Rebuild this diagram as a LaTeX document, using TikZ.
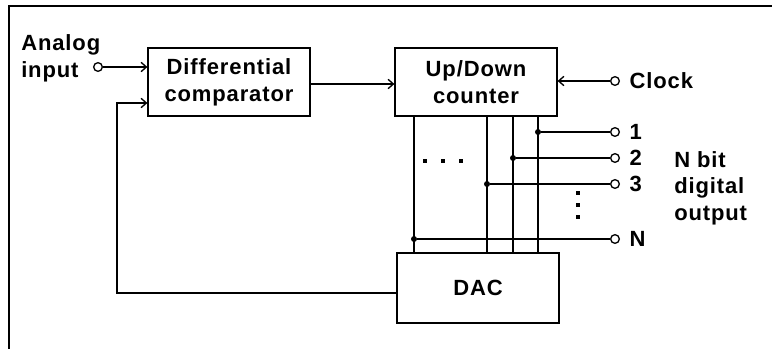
\documentclass[tikz,border=0pt]{standalone}
\usepackage{fontspec}
\setmainfont{Liberation Sans}[LetterSpace=4]
\usetikzlibrary{positioning,arrows.meta}
\tikzset{
  block/.style={draw,line width=1.4pt,minimum width=121pt,minimum height=51pt,align=center},
  term/.style={draw,circle,line width=1pt,inner sep=0pt,minimum size=6.5pt,fill=white},
  wire/.style={line width=1.4pt},
  junc/.style={circle,fill,inner sep=0pt,minimum size=4.5pt},
  every label/.style={inner sep=0pt,label distance=7pt},
}
\begin{document}
\begin{tikzpicture}[x=0.75pt,y=-0.75pt,>={Straight Barb[length=4pt,width=7pt,line width=1pt]},font=\fontsize{16.5}{20}\selectfont\bfseries]
  \useasboundingbox (0,0) rectangle (772,349);
  \draw[line width=1.8pt] (9,349) -- (9,6) -- (772,6);
  % blocks
  \node[block] (comp) at (229,82) {Differential\\comparator};
  \node[block] (counter) at (476,82) {Up/Down\\counter};
  \node[block,minimum height=52pt] (dac) at (478,288) {DAC};
  % inputs
  \node[anchor=west,align=left,inner sep=0pt] (ainlbl) at (21,58) {Analog\\input};
  \node[term] (ain) at (98,67) {};
  \node[term,label=right:Clock] (clk) at (615,81) {};
  \coordinate (fb) at (117,103);
  \draw[wire,->] (ain) -- (comp.west |- ain);
  \draw[wire,->] ([yshift=-1.5pt]comp.east) -- ([yshift=-1.5pt]counter.west);
  \draw[wire,->] (clk) -- (counter.east |- clk);
  \draw[wire,->] ([yshift=-3.75pt]dac.west) -| (fb) -- (comp.west |- fb);
  % bus between counter and DAC
  \foreach \bx in {414,487,513,538}
    \draw[wire] (counter.south -| \bx,0) -- (dac.north -| \bx,0);
  \foreach \bx/\by/\nm/\txt in {538/132/q1/1, 513/158/q2/2, 487/184/q3/3, 414/239/qn/N} {
    \node[junc] (j\nm) at (\bx,\by) {};
    \node[term,label=right:\txt] (\nm) at (615,\by) {};
    \draw[wire] (j\nm) -- (\nm);
  }
  \foreach \dx in {425,443,461} \fill (\dx-2,159) rectangle ++(4,4);
  \foreach \dy in {193,205,217} \fill (576,\dy-2) rectangle ++(4,4);
  \node[anchor=west,align=left,inner sep=0pt] (outlbl) at (674,188) {N bit\\digital\\output};
\end{tikzpicture}
\end{document}
